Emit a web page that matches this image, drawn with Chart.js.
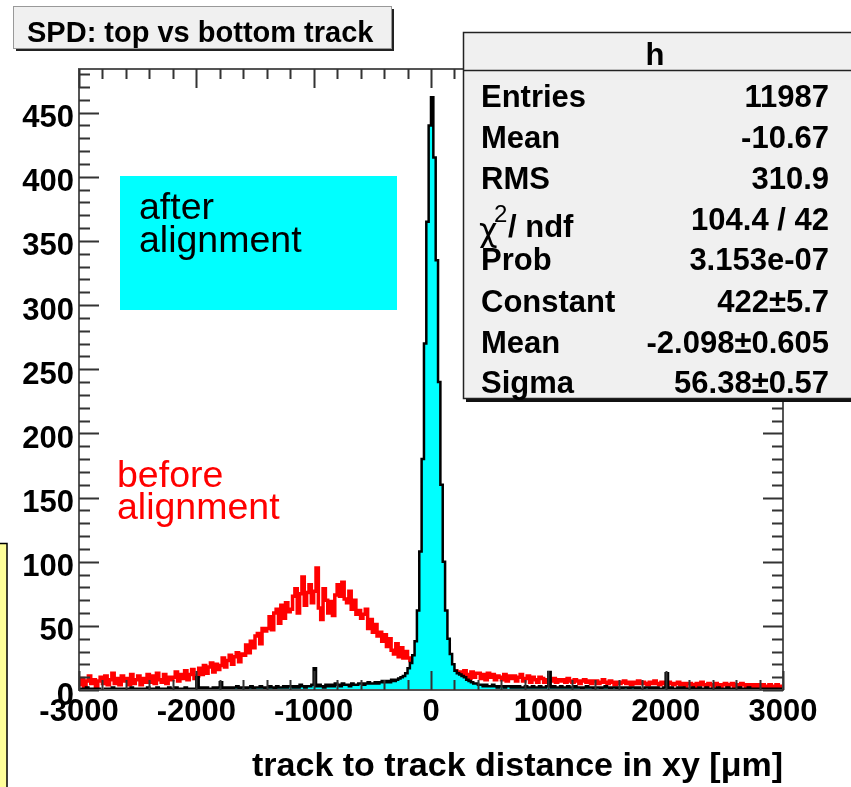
<!DOCTYPE html>
<html>
<head>
<meta charset="utf-8">
<script src="https://cdn.jsdelivr.net/npm/chart.js@4"></script>
<style>
  html, body { margin: 0; padding: 0; background: #fff; }
  #wrap { width: 851px; height: 787px; position: relative; }
</style>
</head>
<body>
<div id="wrap"><canvas id="graficoSPD" width="851" height="787"></canvas></div>
<script>
// histogramas: bines de 20 um desde -3000 hasta 3000
const binStart = -3000;
const binWidth = 20;

// antes del alineamiento (rojo)
const beforeCounts = [
  4,9,3,7,11,5,8,3,7,10,
  5,11,4,8,13,5,9,4,11,7,
  9,4,12,5,8,11,4,9,6,12,
  6,11,5,13,8,6,12,5,10,8,
  10,14,7,12,9,15,8,12,16,9,
  11,17,12,19,13,18,21,14,20,16,
  19,25,18,23,27,20,26,29,22,28,
  27,35,29,38,33,42,44,36,48,46,
  48,57,47,60,63,52,66,56,68,61,
  63,73,79,60,75,88,66,76,82,68,
  77,95,64,55,79,70,60,69,58,74,
  82,73,84,71,68,77,63,70,59,62,
  56,59,63,48,55,45,51,42,45,38,
  43,34,40,31,28,36,26,33,25,30,
  25,23,22,24,22,23,21,22,20,21,
  20,19,18,17,16,15,15,16,12,15,
  15,11,14,10,15,12,9,14,10,13,
  13,9,12,8,13,10,12,8,11,10,
  8,12,7,11,9,11,7,10,12,7,
  9,11,6,10,8,6,10,9,6,8,
  8,7,9,6,8,7,8,6,9,7,
  6,8,7,5,7,8,6,7,5,7,
  7,5,6,8,6,5,7,6,4,6,
  5,6,7,5,6,4,6,5,7,5,
  6,5,4,6,5,7,5,4,6,5,
  4,6,5,4,5,6,4,5,3,5,
  5,4,3,5,4,6,4,3,5,4,
  3,5,4,3,4,5,3,4,5,3,
  4,3,5,4,3,4,2,4,3,4,
  3,4,2,3,4,3,2,4,3,2
];

// despues del alineamiento (negro + relleno cian)
const afterCounts = [
  1,0,1,2,0,1,0,1,1,0,
  0,1,1,0,2,1,0,1,0,1,
  1,0,2,1,0,1,1,0,1,2,
  0,1,1,2,0,1,0,1,2,1,
  1,2,1,0,1,2,1,1,0,1,
  10,1,2,1,2,1,1,2,1,2,
  6,1,2,1,2,1,2,3,1,2,
  2,1,2,3,1,2,2,3,2,1,
  2,3,2,1,3,2,2,3,2,3,
  3,2,3,2,4,3,2,3,3,4,
  17,3,4,3,2,4,3,4,3,5,
  4,3,5,4,4,3,5,4,4,5,
  5,4,5,6,5,5,6,5,6,7,
  6,7,6,8,7,8,9,10,11,13,
  17,21,27,38,62,108,180,270,365,440,
  462,415,335,240,160,100,62,40,28,20,
  15,13,12,11,10,8,7,6,5,5,
  4,4,3,4,3,3,4,3,2,3,
  3,2,3,3,2,3,2,3,2,2,
  3,2,2,3,2,2,3,2,2,3,
  14,2,3,2,2,3,2,2,3,2,
  2,3,2,2,1,2,3,2,2,1,
  2,2,1,2,3,2,1,2,2,1,
  2,1,2,2,1,2,2,1,2,1,
  1,2,2,1,2,1,2,1,1,2,
  13,1,2,1,1,2,1,2,1,1,
  1,2,1,1,2,1,1,2,1,1,
  1,1,2,1,1,1,2,1,1,1,
  1,2,1,1,1,2,1,1,1,0,
  1,1,0,1,1,1,0,1,1,1
];

const xTicks = [-3000, -2000, -1000, 0, 1000, 2000, 3000];
const yTicks = [0, 50, 100, 150, 200, 250, 300, 350, 400, 450];

const statsLabels = ['Entries', 'Mean', 'RMS', 'chi2', 'Prob', 'Constant', 'Mean', 'Sigma'];
const statsValues = ['11987', '-10.67', '310.9', '104.4 / 42', '3.153e-07', '422±5.7', '-2.098±0.605', '56.38±0.57'];

// puntos en los bordes izquierdos de cada bin + borde final
const toSteps = (counts) => {
  const pts = counts.map((c, i) => ({ x: binStart + i * binWidth, y: c }));
  pts.push({ x: binStart + counts.length * binWidth, y: counts[counts.length - 1] });
  return pts;
};

const FONT = '"Liberation Sans", Arial, sans-serif';

const rootDecor = {
  id: 'rootDecor',
  afterDraw(chart) {
    const { ctx, chartArea: a, scales: { x, y } } = chart;
    ctx.save();

    // marco
    ctx.strokeStyle = '#555';
    ctx.lineWidth = 2;
    ctx.strokeRect(a.left, a.top, a.right - a.left, a.bottom - a.top);

    // ticks hacia dentro
    ctx.strokeStyle = '#333';
    ctx.lineWidth = 2;
    ctx.beginPath();
    for (let v = 0; v <= 480; v += 10) {
      const py = Math.round(y.getPixelForValue(v)) + 0.5;
      const len = v % 50 === 0 ? 20 : 11;
      ctx.moveTo(a.left, py); ctx.lineTo(a.left + len, py);
      ctx.moveTo(a.right, py); ctx.lineTo(a.right - len, py);
    }
    for (let v = -3000; v <= 3000; v += 200) {
      const px = Math.round(x.getPixelForValue(v)) + 0.5;
      const len = v % 1000 === 0 ? 19 : 10;
      ctx.moveTo(px, a.bottom); ctx.lineTo(px, a.bottom - len);
      ctx.moveTo(px, a.top); ctx.lineTo(px, a.top + len);
    }
    ctx.stroke();

    // caja cian "after alignment"
    ctx.fillStyle = '#00ffff';
    ctx.fillRect(120, 176, 277, 134);
    ctx.fillStyle = '#000';
    ctx.font = '37.5px ' + FONT;
    ctx.textAlign = 'left';
    ctx.textBaseline = 'alphabetic';
    ctx.fillText('after', 139, 219);
    ctx.fillText('alignment', 139, 252);

    // texto rojo
    ctx.fillStyle = '#ff0000';
    ctx.fillText('before', 117, 487);
    ctx.fillText('alignment', 117, 519);

    // titulo
    ctx.fillStyle = '#222';
    ctx.fillRect(16, 9, 378, 42);
    ctx.fillStyle = '#f0f0f0';
    ctx.fillRect(13, 6, 379, 43);
    ctx.strokeStyle = '#999';
    ctx.lineWidth = 1;
    ctx.strokeRect(13.5, 6.5, 378, 42);
    ctx.fillStyle = '#000';
    ctx.font = 'bold 29px ' + FONT;
    ctx.fillText('SPD: top vs bottom track', 27, 42);

    // caja de estadisticas
    ctx.fillStyle = '#111';
    ctx.fillRect(466, 35, 400, 367);
    ctx.fillStyle = '#f0f0f0';
    ctx.fillRect(463, 32, 400, 367);
    ctx.strokeStyle = '#222';
    ctx.lineWidth = 1.5;
    ctx.strokeRect(463.5, 32.5, 400, 366);
    ctx.beginPath();
    ctx.moveTo(463, 70.5); ctx.lineTo(851, 70.5);
    ctx.stroke();
    ctx.fillStyle = '#000';
    ctx.font = 'bold 31px ' + FONT;
    ctx.textAlign = 'center';
    ctx.fillText('h', 655, 65);
    const base = [107, 148, 189, 230, 270, 312, 353, 393];
    statsLabels.forEach((lab, i) => {
      ctx.textAlign = 'left';
      if (lab === 'chi2') {
        ctx.font = '32px "DejaVu Sans", sans-serif';
        ctx.fillText('χ', 479, 241);
        ctx.font = '24px ' + FONT;
        ctx.fillText('2', 494, 222);
        ctx.font = 'bold 31px ' + FONT;
        ctx.fillText('/ ndf', 508, 237);
      } else {
        ctx.font = 'bold 31px ' + FONT;
        ctx.fillText(lab, 481, base[i]);
      }
      ctx.font = 'bold 31px ' + FONT;
      ctx.textAlign = 'right';
      ctx.fillText(statsValues[i], 829, base[i]);
    });

    // caja amarilla a la izquierda
    ctx.fillStyle = '#ffff99';
    ctx.fillRect(-2, 543, 9, 260);
    ctx.strokeStyle = '#000';
    ctx.lineWidth = 1.5;
    ctx.strokeRect(-2, 543.5, 9, 260);

    ctx.restore();
  }
};

new Chart(document.getElementById('graficoSPD'), {
  type: 'line',
  data: {
    datasets: [
      {
        label: 'after alignment',
        data: toSteps(afterCounts),
        stepped: 'before',
        borderColor: '#000',
        borderWidth: 2.5,
        backgroundColor: '#00ffff',
        fill: 'origin',
        pointRadius: 0,
        order: 1
      },
      {
        label: 'before alignment',
        data: toSteps(beforeCounts),
        stepped: 'before',
        borderColor: '#ff0000',
        borderWidth: 3.5,
        fill: false,
        pointRadius: 0,
        order: 2
      }
    ]
  },
  options: {
    responsive: false,
    animation: false,
    devicePixelRatio: 1,
    layout: { padding: { top: 69, right: 68, left: 0, bottom: 0 } },
    plugins: { legend: { display: false }, tooltip: { enabled: false } },
    scales: {
      x: {
        type: 'linear',
        min: -3000,
        max: 3000,
        afterFit: (s) => { s.height = 97; },
        afterBuildTicks: (s) => { s.ticks = xTicks.map(v => ({ value: v })); },
        grid: { display: false, drawTicks: false },
        border: { display: false },
        ticks: {
          autoSkip: false, maxRotation: 0, padding: 4,
          color: '#000',
          font: { family: FONT, size: 31, weight: 'bold' },
          callback: (v) => String(v)
        },
        title: {
          display: true,
          text: 'track to track distance in xy [μm]',
          align: 'end',
          color: '#000',
          font: { family: FONT, size: 34, weight: 'bold' },
          padding: { top: 0, bottom: 0 }
        }
      },
      y: {
        min: 0,
        max: 484,
        afterFit: (s) => { s.width = 79; },
        afterBuildTicks: (s) => { s.ticks = yTicks.map(v => ({ value: v })); },
        grid: { display: false, drawTicks: false },
        border: { display: false },
        ticks: {
          autoSkip: false, padding: 5, labelOffset: 6,
          color: '#000',
          font: { family: FONT, size: 31, weight: 'bold' },
          callback: (v) => String(v)
        }
      }
    }
  },
  plugins: [rootDecor]
});
</script>
</body>
</html>
